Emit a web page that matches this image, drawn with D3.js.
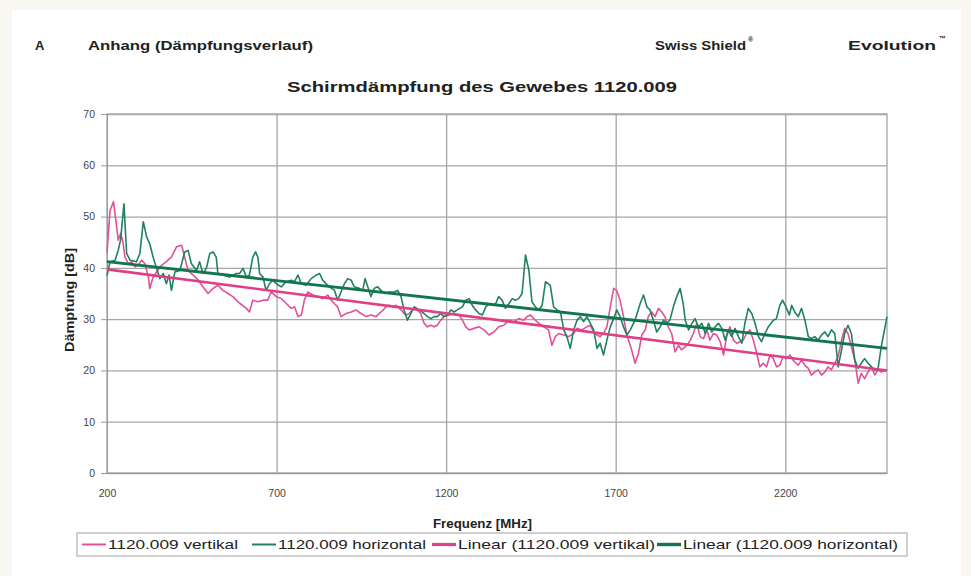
<!DOCTYPE html>
<html>
<head>
<meta charset="utf-8">
<script src="https://cdn.jsdelivr.net/npm/d3@7/dist/d3.min.js"></script>
<style>
  html, body { margin: 0; padding: 0; background: #f8f7f2; }
  svg { display: block; font-family: "Liberation Sans", Arial, sans-serif; }
</style>
</head>
<body>
<svg id="chart" width="971" height="576"></svg>
<script>
var vertFreq = [200,209,219,226,233,240,246,253,263,273,282,292,302,312,322,326,336,346,361,375,390,405,420,429,439,454,469,483,498,513,527,542,557,571,591,611,620,630,645,660,674,684,699,714,728,743,
  753,763,773,782,792,807,822,836,851,861,871,880,890,905,920,934,949,964,978,993,1008,1023,1032,1042,1052,1067,1081,1091,1101,1111,1125,1135,1145,1155,1165,1174,1184,1194,1209,1223,1238,1248,1258,1268,1282,1297,1312,
  1326,1341,1355,1370,1385,1400,1414,1429,1439,1449,1458,1473,1488,1502,1512,1522,1532,1547,1561,1576,1586,1600,1615,1625,1635,1645,1654,1664,1674,1684,1694,1703,1713,1723,1733,1747,1757,1767,1777,1787,1796,1806,1816,1826,1836,1845,1855,1865,1875,1885,1894,
  1910,1920,1929,1939,1949,1959,1969,1978,1988,1998,2008,2018,2027,2037,2047,2057,2067,2076,2086,2096,2106,2116,2125,2135,2145,2155,2165,2174,2184,2194,2204,2214,2223,2238,2248,2258,2268,2277,2287,2297,2307,2317,2326,2336,2346,2356,2366,2375,2385,2395,2405,2415,2424,2434,2444,2454,2464,2473,2483,2500];
var vertDb = [43,51.2,52.9,49.3,45.4,46.7,45.4,42.1,40.8,41.2,40.2,40.5,41.5,40.8,38.2,36,38.2,39.2,40.5,41.2,42.1,44.1,44.4,42.1,39.5,38.6,37.6,36.3,35,36,36.6,35.6,35,34.4,33.1,32.1,31.4,33.7,33.4,33.7,33.7,35.3,34.4,34,33.1,32.1,
  32.4,30.5,30.8,33.7,35.3,34.7,34.4,34,34.7,33.7,33,32.4,30.5,31.1,31.4,31.8,31.1,30.5,30.8,30.5,31.4,32.4,32.7,32.4,32.7,31.8,30.8,31.1,31.8,32.1,31.1,29.2,28.5,28.8,28.5,28.8,29.8,30.5,30.8,31.1,30.8,29.8,28.5,27.9,28.2,28.5,27.9,
  26.9,27.5,28.5,28.8,29.8,29.5,30.1,29.8,30.5,30.8,30.1,29.2,28.5,27.9,24.9,26.6,27.2,26.9,26.6,27.2,28.2,27.9,28.5,28.8,27.5,26.9,26.6,27.2,28.5,32.4,36,35.6,33.7,30.5,26.9,24,21.4,23.3,26.9,27.9,30.5,31.4,30.5,32.1,31.4,30.5,28.5,27.2,23.6,24.9,24,
  24.9,25.9,27.2,29.2,26.6,26.2,27.9,25.9,27.2,26.9,25.6,23,26.6,28.5,25.9,25.3,25.6,25.9,27.2,27.9,25.9,23.3,20.7,21.4,20.7,23,22.3,20.7,21,22.7,22.3,23,22,21,22,21,20.4,19.1,19.7,20.1,19.1,19.7,20.7,20.1,21.4,22.7,25.9,28.2,27.2,24.6,22,17.5,19.4,18.4,19.7,20.7,19.1,20.1,19.7,20.1];

var horizFreq = [200,209,224,233,240,250,258,268,277,287,297,307,317,326,336,346,356,366,375,383,390,400,415,429,439,449,464,473,483,493,503,513,522,527,542,562,581,591,601,611,620,630,638,645,650,660,669,679,689,699,714,728,743,
  753,763,773,787,802,817,827,836,846,856,871,880,890,900,910,920,929,944,954,961,969,978,988,998,1008,1018,1032,1047,1057,1067,1076,1086,1096,1106,1121,1135,1145,1155,1165,1174,1184,1194,1204,1214,1223,1233,1248,1258,1268,1277,1287,1297,1307,1317,
  1326,1336,1346,1355,1365,1375,1385,1395,1404,1414,1424,1434,1444,1453,1463,1473,1483,1493,1507,1517,1527,1537,1547,1556,1566,1576,1586,1596,1605,1615,1625,1635,1645,1654,1664,1674,1684,1694,1703,1713,1723,1733,1743,1757,1772,1782,1792,1801,1811,1821,1831,1841,1850,1860,1870,1880,1890,1899,
  1905,1915,1925,1934,1944,1954,1964,1974,1983,1993,2003,2013,2023,2032,2042,2052,2062,2072,2081,2091,2101,2111,2121,2130,2140,2150,2165,2174,2184,2192,2202,2212,2219,2228,2238,2248,2258,2268,2277,2287,2297,2307,2317,2326,2336,2346,2356,2366,2375,2385,2395,2405,2415,2424,2434,2444,2454,2464,2473,2483,2500];
var horizDb = [38.5,41.2,41.5,43.4,45.4,52.5,42.8,41.5,41.4,41.2,42.8,49,46,44.7,42.1,39.9,37.9,38.9,36.9,38.6,35.6,39.2,39.5,43.1,43.4,40.8,39.5,41.2,38.9,39.9,42.8,43.1,42.1,38.9,38.6,38.2,38.9,38.9,39.9,38.2,38.6,42.1,43.1,42.1,38.9,38.2,35.6,36.9,37.6,36.9,36.3,37.3,37.6,
  37.3,38.6,36.9,36.6,37.9,38.6,38.9,37.6,36.9,36.3,35.6,33.7,35.3,36.9,37.9,37.6,36.3,36,35.6,37.9,36.3,34.4,36,36.3,35.6,35,35.3,35.3,35.6,34.4,31.8,29.8,31.1,32.4,31.8,31.1,30.5,30.1,30.5,30.5,31.1,30.5,30.8,31.8,31.4,31.8,32.4,33.7,34,32.7,31.8,31.1,30.8,32.4,
  33,32.7,33,34.4,33.7,32.1,33,34,33.7,34,35,42.5,39.5,33.4,32.4,31.8,32.7,37.3,36.6,32.4,31.8,31.4,27.9,26.6,24.3,27.9,29.8,30.5,29.5,30.5,29.2,27.9,24.3,25.3,23,25.9,28.5,30.1,31.8,30.5,28.5,26.9,27.9,29.8,33,34.7,32.4,31.8,29.8,27.5,28.5,29.8,29.2,29.8,32.4,34.4,36,33,
  29.8,27.9,29.2,30.1,28.5,29.2,27.2,29.2,27.5,28.5,29.2,28.2,25.9,27.9,26.6,28.2,26.6,25.3,29.2,32.1,31.1,29.2,26.6,25.6,27.2,28.5,29.8,30.1,32.7,33.7,32.4,30.8,32.7,31.4,30.5,32.1,29.8,26.6,26.2,26.6,25.9,26.9,27.5,26.6,27.9,27.2,20.7,24,27.2,28.8,27.2,22,20.4,21.4,22.3,21.4,20.7,20.1,20.1,24.6,30.5];

// linear trend lines (start / end values as drawn)
var trendFreq = [200, 2500];
var trendVertDb = [39.7, 20.0];
var trendHorizDb = [41.2, 24.3];

var yTicks = [0, 10, 20, 30, 40, 50, 60, 70];
var xTicks = [200, 700, 1200, 1700, 2200];
var xGrid = [700, 1200, 1700, 2200];
var legendLabels = ["1120.009 vertikal", "1120.009 horizontal", "Linear (1120.009 vertikal)", "Linear (1120.009 horizontal)"];

var PINK = "#e2509a", GREEN = "#1f8160", PINK_T = "#df3f86", GREEN_T = "#13754d";

var svg = d3.select("#chart");
// scanned page
svg.append("rect").attr("x", 12).attr("y", 10).attr("width", 949).attr("height", 566).attr("fill", "#ffffff");

var pLeft = 107, pRight = 887, pTop = 114, pBottom = 473;
var x = d3.scaleLinear().domain([200, 2500]).range([pLeft, pRight]);
var y = d3.scaleLinear().domain([0, 70]).range([pBottom, pTop]);

// header
var hdr = svg.append("g").attr("font-weight", "bold").attr("fill", "#222");
hdr.append("text").attr("x", 35).attr("y", 50).attr("font-size", 13).text("A");
hdr.append("text").attr("x", 88).attr("y", 50).attr("font-size", 13)
  .attr("textLength", 225).attr("lengthAdjust", "spacingAndGlyphs").text("Anhang (Dämpfungsverlauf)");
hdr.append("text").attr("x", 655).attr("y", 50).attr("font-size", 13)
  .attr("textLength", 91).attr("lengthAdjust", "spacingAndGlyphs").text("Swiss Shield");
hdr.append("text").attr("x", 748).attr("y", 42).attr("font-size", 7).text("®");
hdr.append("text").attr("x", 848).attr("y", 50).attr("font-size", 13)
  .attr("textLength", 88).attr("lengthAdjust", "spacingAndGlyphs").text("Evolution");
hdr.append("text").attr("x", 939).attr("y", 41).attr("font-size", 7).text("™");

svg.append("text").attr("x", 287).attr("y", 92).attr("font-size", 15).attr("font-weight", "bold")
  .attr("fill", "#222").attr("textLength", 390).attr("lengthAdjust", "spacingAndGlyphs")
  .text("Schirmdämpfung des Gewebes 1120.009");

// grid
svg.append("g").attr("transform", "translate(" + pLeft + ",0)")
  .call(d3.axisLeft(y).tickValues(yTicks).tickSize(-(pRight - pLeft)).tickFormat(""))
  .call(function(g) { g.select(".domain").remove(); })
  .selectAll("line").attr("stroke", "#a6a6a6").attr("stroke-width", 1.3);
svg.append("g").attr("transform", "translate(0," + pBottom + ")")
  .call(d3.axisBottom(x).tickValues(xGrid).tickSize(-(pBottom - pTop)).tickFormat(""))
  .call(function(g) { g.select(".domain").remove(); })
  .selectAll("line").attr("stroke", "#a6a6a6").attr("stroke-width", 1.3);
svg.append("rect").attr("x", pLeft).attr("y", pTop).attr("width", pRight - pLeft).attr("height", pBottom - pTop)
  .attr("fill", "none").attr("stroke", "#a6a6a6").attr("stroke-width", 1.3);

// axes
var yAx = svg.append("g").attr("transform", "translate(" + pLeft + ",0)")
  .call(d3.axisLeft(y).tickValues(yTicks).tickSize(6).tickPadding(6));
yAx.select(".domain").attr("stroke", "#999");
yAx.selectAll("line").attr("stroke", "#999");
yAx.selectAll("text").attr("font-size", 10.5).attr("fill", "#444").attr("font-family", "Liberation Sans, Arial, sans-serif");

var xAx = svg.append("g").attr("transform", "translate(0," + pBottom + ")")
  .call(d3.axisBottom(x).tickValues(xTicks).tickFormat(d3.format("d")).tickSize(0).tickPadding(17));
xAx.select(".domain").attr("stroke", "#999");
xAx.selectAll("text").attr("font-size", 10.5).attr("fill", "#444").attr("font-family", "Liberation Sans, Arial, sans-serif");

svg.append("text").attr("transform", "translate(70,300) rotate(-90)")
  .attr("text-anchor", "middle").attr("dy", "0.35em").attr("font-size", 12).attr("font-weight", "bold")
  .attr("fill", "#222").attr("textLength", 104).attr("lengthAdjust", "spacingAndGlyphs").text("Dämpfung [dB]");
svg.append("text").attr("x", 433).attr("y", 528)
  .attr("font-size", 12).attr("font-weight", "bold").attr("fill", "#222")
  .attr("textLength", 99).attr("lengthAdjust", "spacingAndGlyphs").text("Frequenz [MHz]");

// series
var line = d3.line().x(function(d) { return x(d[0]); }).y(function(d) { return y(d[1]); });
var plot = svg.append("g");
function draw(fr, db, col, w) {
  plot.append("path").datum(d3.zip(fr, db)).attr("d", line)
    .attr("fill", "none").attr("stroke", col).attr("stroke-width", w).attr("stroke-linejoin", "round");
}
draw(vertFreq, vertDb, PINK, 1.6);
draw(horizFreq, horizDb, GREEN, 1.6);
draw(trendFreq, trendVertDb, PINK_T, 2.6);
draw(trendFreq, trendHorizDb, GREEN_T, 2.8);

// legend
var legendCols = [PINK, GREEN, PINK_T, GREEN_T];
var legendW = [1.4, 1.4, 2.6, 2.8];
var legendX = [82, 252, 432, 657];
var legendTextW = [130, 148, 197, 215];
var lg = svg.append("g");
lg.append("rect").attr("x", 77).attr("y", 533).attr("width", 830).attr("height", 23)
  .attr("fill", "#fff").attr("stroke", "#b0b0b0").attr("stroke-width", 1.2);
legendLabels.forEach(function(lab, i) {
  var lx = legendX[i];
  lg.append("line").attr("x1", lx).attr("x2", lx + 24).attr("y1", 544.5).attr("y2", 544.5)
    .attr("stroke", legendCols[i]).attr("stroke-width", legendW[i] + 0.6);
  lg.append("text").attr("x", lx + 26).attr("y", 549).attr("font-size", 13).attr("fill", "#222")
    .attr("textLength", legendTextW[i]).attr("lengthAdjust", "spacingAndGlyphs").text(lab);
});
</script>
</body>
</html>
